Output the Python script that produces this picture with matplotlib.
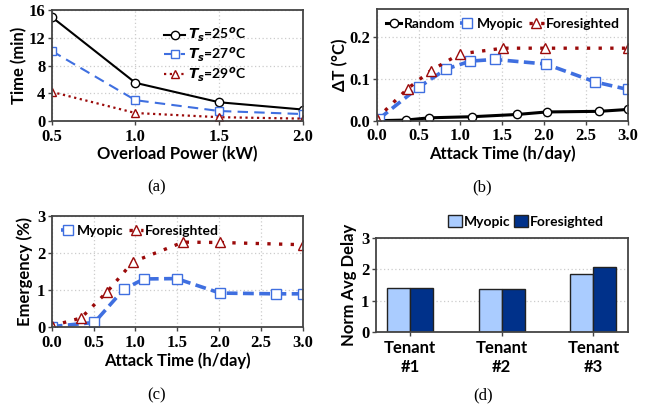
import matplotlib
matplotlib.use("Agg")
import matplotlib.pyplot as plt
import numpy as np

# ---------- data ----------
# (a)
power_kw = [0.5, 1.0, 1.5, 2.0]
time_ts25 = [15.0, 5.5, 2.7, 1.65]
time_ts27 = [10.1, 3.0, 1.44, 1.0]
time_ts29 = [4.2, 1.15, 0.55, 0.34]

# (b)
rand_x = [0.0, 0.35, 0.63, 1.14, 1.68, 2.03, 2.66, 3.0]
rand_y = [0.0, 0.0016, 0.007, 0.0096, 0.015, 0.021, 0.0225, 0.027]
myo_b_x = [0.03, 0.50, 0.83, 1.12, 1.41, 2.02, 2.61, 3.0]
myo_b_y = [0.005, 0.080, 0.124, 0.143, 0.147, 0.136, 0.093, 0.075]
fore_b_x = [0.0, 0.37, 0.645, 0.99, 1.51, 2.01, 3.0]
fore_b_y = [0.005, 0.077, 0.120, 0.160, 0.174, 0.174, 0.174]

# (c)
myo_c_x = [0.0, 0.51, 0.86, 1.10, 1.49, 2.01, 2.68, 3.0]
myo_c_y = [0.02, 0.13, 1.02, 1.30, 1.31, 0.92, 0.90, 0.90]
fore_c_x = [0.0, 0.35, 0.66, 0.97, 1.57, 2.01, 3.0]
fore_c_y = [0.04, 0.25, 0.95, 1.76, 2.29, 2.28, 2.22]

# (d)
tenants = ["Tenant\n#1", "Tenant\n#2", "Tenant\n#3"]
delay_myopic = [1.40, 1.38, 1.84]
delay_fore = [1.39, 1.37, 2.08]

# ---------- style ----------
BLUE = "#3f6fe0"
RED = "#9b0a0a"
LIGHT = "#aaccff"
NAVY = "#00318a"
SPINE = "#444444"
LABEL_FONT = dict(family="Lato", weight="bold", size=12)
TICK_FAMILY = "Liberation Serif"
TICK_SIZE = 12
LEG_FONT = {"family": "Lato", "weight": "bold", "size": 10}

fig = plt.figure(figsize=(6.52, 4.07), dpi=100)

def style(ax, xticks, yticks, xlim, ylim, xticklabels=None, xgrid=True):
    ax.set_xlim(*xlim)
    ax.set_ylim(*ylim)
    ax.set_xticks(xticks)
    ax.set_yticks(yticks)
    if xticklabels is not None:
        ax.set_xticklabels(xticklabels)
    for s in ax.spines.values():
        s.set_color(SPINE)
        s.set_linewidth(1.3)
    ax.tick_params(direction="out", length=3, width=1, color=SPINE, pad=1)
    ax.tick_params(axis="x", pad=2.5)
    ax.tick_params(axis="y", pad=1.5)
    for lab in ax.get_xticklabels() + ax.get_yticklabels():
        lab.set_fontfamily(TICK_FAMILY)
        lab.set_fontweight("bold")
        lab.set_fontsize(TICK_SIZE)
    ax.grid(True, axis="both" if xgrid else "y", color="#cccccc",
            linestyle=(0, (1, 2)), linewidth=0.9)
    ax.set_axisbelow(True)

xt = [0, 0.5, 1.0, 1.5, 2.0, 2.5, 3.0]
xtl = ["0.0", "0.5", "1.0", "1.5", "2.0", "2.5", "3.0"]

# ---------- (a) ----------
ax = fig.add_axes([0.0793, 0.7027, 0.3854, 0.2727])
ax.plot(power_kw, time_ts25, color="black", lw=1.5, marker="o", ms=6,
        mfc="white", mec="black", mew=1.0, label=r"$\mathbfit{T_s}$=25$^\mathbfit{o}$C")
ax.plot(power_kw, time_ts27, color=BLUE, lw=1.5, ls=(0, (5, 3)), marker="s", ms=6,
        mfc="white", mec=BLUE, mew=1.0, label=r"$\mathbfit{T_s}$=27$^\mathbfit{o}$C")
ax.plot(power_kw, time_ts29, color=RED, lw=1.6, ls=(0, (1, 1.6)), marker="^", ms=6,
        mfc="white", mec=RED, mew=1.0, label=r"$\mathbfit{T_s}$=29$^\mathbfit{o}$C")
style(ax, power_kw, [0, 4, 8, 12, 16], (0.5, 2.0), (0, 16))
ax.set_xlabel("Overload Power (kW)", **LABEL_FONT, labelpad=1)
ax.set_ylabel("Time (min)", **LABEL_FONT, labelpad=1)
ax.legend(loc="upper left", bbox_to_anchor=(0.42, 0.92), frameon=False,
          prop=LEG_FONT, handlelength=1.5, handletextpad=0.2, labelspacing=0.1,
          borderpad=0)

# ---------- (b) ----------
ax = fig.add_axes([0.5778, 0.7034, 0.385, 0.2745])
ax.plot(rand_x, rand_y, color="black", lw=2.2, marker="o", ms=6,
        mfc="white", mec="black", mew=1.0, label="Random")
ax.plot(myo_b_x, myo_b_y, color=BLUE, lw=2.6, ls=(0, (3, 1.5)), marker="s", ms=6.5,
        mfc="white", mec=BLUE, mew=1.0, label="Myopic")
ax.plot(fore_b_x, fore_b_y, color=RED, lw=2.4, ls=(0, (1, 2.5)), marker="^", ms=6.5,
        mfc="white", mec=RED, mew=1.0, label="Foresighted")
style(ax, xt, [0.0, 0.1, 0.2], (0, 3), (0, 0.268), xtl)
ax.set_xlabel("Attack Time (h/day)", **LABEL_FONT, labelpad=1)
ax.set_ylabel("ΔT (°C)", **LABEL_FONT, labelpad=1)
ax.legend(loc="upper left", bbox_to_anchor=(0.01, 0.98), frameon=False, ncol=3,
          prop=LEG_FONT, handlelength=1.1, handletextpad=0.15, columnspacing=0.35,
          borderpad=0)

# ---------- (c) ----------
ax = fig.add_axes([0.0793, 0.1958, 0.3854, 0.2742])
ax.plot(myo_c_x, myo_c_y, color=BLUE, lw=2.6, ls=(0, (3, 1.5)), marker="s", ms=7,
        mfc="white", mec=BLUE, mew=1.0, label="Myopic")
ax.plot(fore_c_x, fore_c_y, color=RED, lw=2.4, ls=(0, (1, 2.5)), marker="^", ms=7,
        mfc="white", mec=RED, mew=1.0, label="Foresighted")
style(ax, xt, [0, 1, 2, 3], (0, 3), (0, 3), xtl)
ax.set_xlabel("Attack Time (h/day)", **LABEL_FONT, labelpad=1)
ax.set_ylabel("Emergency (%)", **LABEL_FONT, labelpad=3)
ax.legend(loc="upper left", bbox_to_anchor=(0.01, 0.98), frameon=False, ncol=2,
          prop=LEG_FONT, handlelength=1.0, handletextpad=0.15, columnspacing=0.35,
          borderpad=0)

# ---------- (d) ----------
ax = fig.add_axes([0.5762, 0.1835, 0.3865, 0.2325])
xpos = np.arange(len(tenants))
w = 0.25
ax.bar(xpos - w / 2, delay_myopic, w, color=LIGHT, edgecolor="#222222", lw=1.0, label="Myopic")
ax.bar(xpos + w / 2, delay_fore, w, color=NAVY, edgecolor="#222222", lw=1.0, label="Foresighted")
style(ax, xpos, [0, 1, 2, 3], (-0.375, 2.375), (0, 3), tenants, xgrid=False)
for lab in ax.get_xticklabels():
    lab.set_fontfamily("Lato"); lab.set_fontweight("bold"); lab.set_fontsize(12)
    lab.set_linespacing(1.25)
ax.set_ylabel("Norm Avg Delay", **LABEL_FONT, labelpad=3)
ax.legend(loc="lower left", bbox_to_anchor=(0.26, 1.03), frameon=False, ncol=2,
          prop=LEG_FONT, handlelength=1.0, handleheight=0.9, handletextpad=0.1,
          columnspacing=0.3, borderpad=0)

# ---------- captions ----------
cap = dict(family="Liberation Serif", size=12, ha="center", va="center")
fig.text(157 / 652, 1 - 187 / 407, "(a)", **cap)
fig.text(482 / 652, 1 - 187 / 407, "(b)", **cap)
fig.text(157 / 652, 1 - 395 / 407, "(c)", **cap)
fig.text(483 / 652, 1 - 395 / 407, "(d)", **cap)

fig.savefig("out.png", dpi=100)
